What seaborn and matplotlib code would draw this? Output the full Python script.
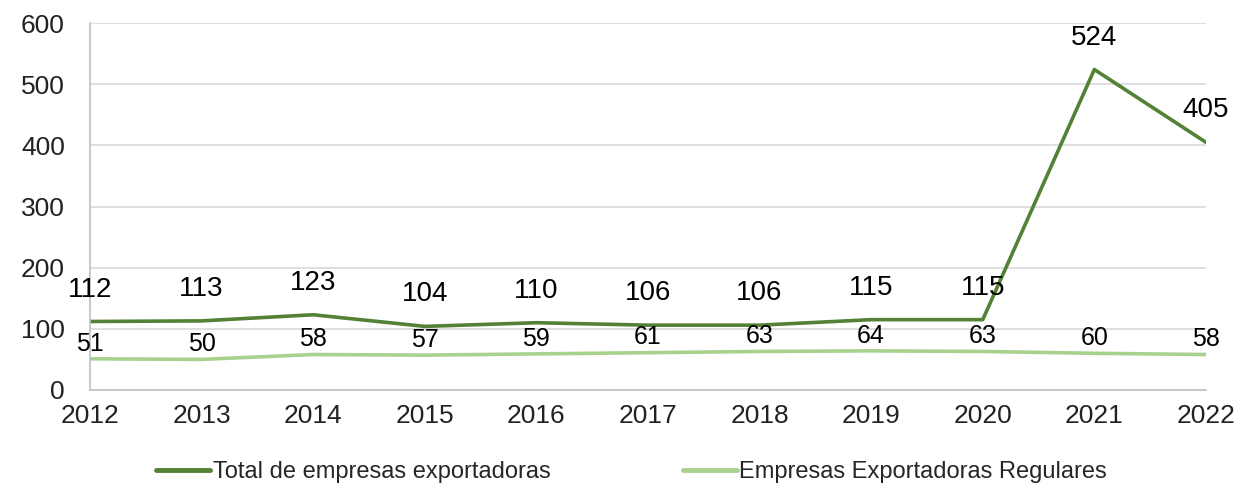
import pandas as pd
import seaborn as sns
import matplotlib.pyplot as plt

years = list(range(2012, 2023))
total_exportadoras = [112, 113, 123, 104, 110, 106, 106, 115, 115, 524, 405]
exportadoras_regulares = [51, 50, 58, 57, 59, 61, 63, 64, 63, 60, 58]
series_names = ['Total de empresas exportadoras', 'Empresas Exportadoras Regulares']


def build_frame():
    df = pd.DataFrame({
        'Year': years * 2,
        'Value': total_exportadoras + exportadoras_regulares,
        'Serie': [series_names[0]] * len(years) + [series_names[1]] * len(years),
    })
    return df


def plot_chart(df):
    sns.set_style('white')
    plt.rcParams['font.family'] = ['Liberation Sans', 'DejaVu Sans']

    fig = plt.figure(figsize=(12.48, 4.9), dpi=100)
    ax = fig.add_axes([0.0721, 0.2041, 0.8942, 0.7489])

    colors = {series_names[0]: '#538135', series_names[1]: '#A9D18E'}
    sns.lineplot(data=df, x='Year', y='Value', hue='Serie', palette=colors,
                 linewidth=2.6, ax=ax, legend=False)

    # data labels
    for x, y in zip(years, total_exportadoras):
        ax.annotate(str(y), (x, y), xytext=(0, 23), textcoords='offset points',
                    ha='center', va='center', fontsize=20, color='black')
    for x, y in zip(years, exportadoras_regulares):
        ax.annotate(str(y), (x, y), xytext=(0, 11), textcoords='offset points',
                    ha='center', va='center', fontsize=18, color='black')

    ax.set_xlim(2012, 2022)
    ax.set_ylim(0, 600)
    ax.set_xticks(years)
    ax.set_yticks(range(0, 601, 100))
    ax.yaxis.grid(True, color='#D9D9D9', linewidth=1.2)
    ax.set_axisbelow(True)
    for side in ['top', 'right']:
        ax.spines[side].set_visible(False)
    for side in ['left', 'bottom']:
        ax.spines[side].set_color('#BFBFBF')
        ax.spines[side].set_linewidth(1.2)
    ax.tick_params(axis='both', labelsize=19, colors='#BFBFBF', labelcolor='#222222',
                   length=6, width=1.2, direction='out')
    ax.tick_params(axis='y', pad=12)
    ax.tick_params(axis='x', pad=4)
    ax.set_xlabel('')
    ax.set_ylabel('')

    handles = [plt.Line2D([], [], color=colors[n], linewidth=3.5) for n in series_names]
    fig.legend(handles, series_names, loc='center', bbox_to_anchor=(0.506, 0.037),
               ncol=2, frameon=False, fontsize=17, handlelength=2.3,
               handletextpad=0.1, columnspacing=5.6)

    fig.savefig('out.png', dpi=100, facecolor='white')


def main():
    df = build_frame()
    plot_chart(df)


if __name__ == "__main__":
    main()
